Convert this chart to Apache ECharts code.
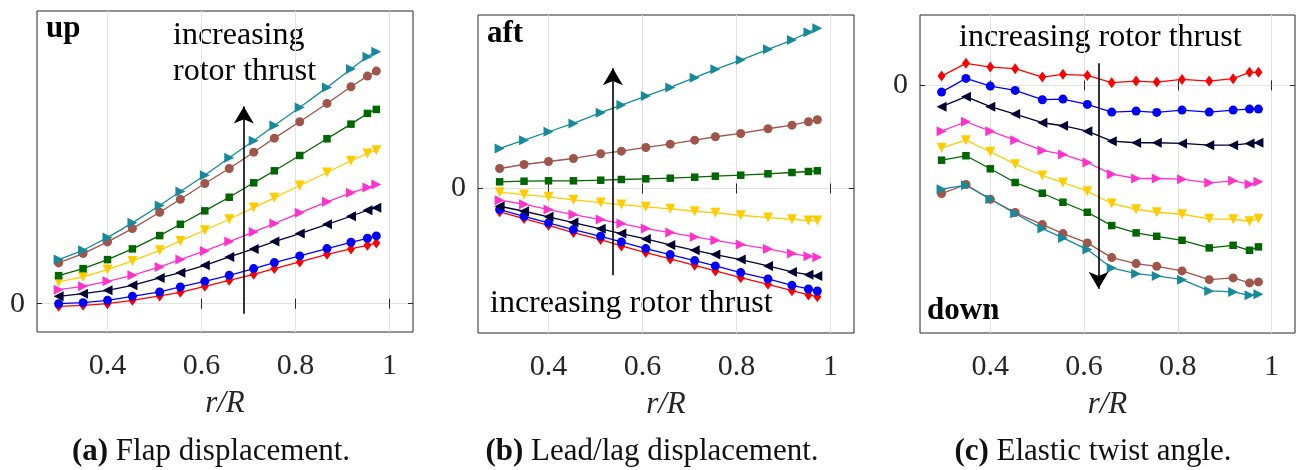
<!DOCTYPE html>
<html>
<head>
<meta charset="utf-8">
<script src="https://cdn.jsdelivr.net/npm/echarts@6/dist/echarts.min.js"></script>
<style>
  html, body { margin: 0; padding: 0; background: #fff; }
  #chart { width: 1300px; height: 470px; }
</style>
</head>
<body>
<div id="chart"></div>
<script>
// blade stations r/R (shared by all three panels)
const rR = [0.296, 0.348, 0.4, 0.453, 0.511, 0.555, 0.607, 0.659, 0.711, 0.755, 0.809, 0.867, 0.918, 0.953, 0.972];
const xTicks = [0.4, 0.6, 0.8, 1];

// rows ordered from lowest to highest rotor thrust
const flapDisp = [
  [-0.027, -0.017, 0, 0.033, 0.077, 0.113, 0.173, 0.233, 0.293, 0.35, 0.417, 0.493, 0.547, 0.583, 0.607],
  [0, 0.01, 0.033, 0.073, 0.117, 0.167, 0.223, 0.283, 0.35, 0.41, 0.477, 0.55, 0.613, 0.653, 0.677],
  [0.073, 0.1, 0.133, 0.183, 0.257, 0.31, 0.383, 0.467, 0.547, 0.62, 0.7, 0.793, 0.873, 0.933, 0.957],
  [0.14, 0.173, 0.223, 0.283, 0.367, 0.44, 0.527, 0.62, 0.717, 0.8, 0.907, 1.017, 1.107, 1.16, 1.19],
  [0.217, 0.267, 0.34, 0.427, 0.533, 0.627, 0.733, 0.843, 0.96, 1.057, 1.18, 1.31, 1.427, 1.5, 1.533],
  [0.28, 0.35, 0.44, 0.547, 0.68, 0.793, 0.927, 1.063, 1.207, 1.327, 1.48, 1.647, 1.793, 1.9, 1.94],
  [0.407, 0.5, 0.617, 0.75, 0.913, 1.043, 1.2, 1.35, 1.513, 1.653, 1.817, 2.0, 2.167, 2.273, 2.323],
  [0.44, 0.533, 0.66, 0.807, 0.98, 1.12, 1.283, 1.457, 1.627, 1.78, 1.96, 2.16, 2.343, 2.467, 2.517]
];

const leadLagDisp = [
  [-0.233, -0.3, -0.367, -0.44, -0.51, -0.573, -0.64, -0.703, -0.767, -0.823, -0.89, -0.957, -1.02, -1.063, -1.08],
  [-0.21, -0.277, -0.343, -0.41, -0.477, -0.533, -0.6, -0.66, -0.72, -0.773, -0.84, -0.903, -0.967, -1.003, -1.023],
  [-0.177, -0.227, -0.283, -0.34, -0.403, -0.45, -0.503, -0.563, -0.617, -0.66, -0.71, -0.773, -0.833, -0.86, -0.873],
  [-0.117, -0.157, -0.21, -0.26, -0.31, -0.35, -0.4, -0.44, -0.483, -0.517, -0.56, -0.603, -0.65, -0.677, -0.687],
  [-0.037, -0.06, -0.083, -0.113, -0.14, -0.16, -0.183, -0.203, -0.227, -0.243, -0.267, -0.29, -0.307, -0.32, -0.32],
  [0.067, 0.073, 0.077, 0.077, 0.083, 0.09, 0.097, 0.103, 0.113, 0.123, 0.133, 0.147, 0.16, 0.17, 0.177],
  [0.2, 0.24, 0.27, 0.3, 0.347, 0.373, 0.41, 0.443, 0.483, 0.517, 0.55, 0.597, 0.633, 0.667, 0.687],
  [0.4, 0.483, 0.567, 0.65, 0.757, 0.833, 0.923, 1.01, 1.107, 1.19, 1.283, 1.39, 1.483, 1.56, 1.6]
];

const twistAngle = [
  [0.093, 0.22, 0.183, 0.167, 0.083, 0.11, 0.1, 0.027, 0.043, 0.033, 0.06, 0.043, 0.067, 0.13, 0.13],
  [-0.067, 0.07, -0.007, -0.05, -0.143, -0.137, -0.19, -0.267, -0.257, -0.27, -0.247, -0.267, -0.247, -0.237, -0.237],
  [-0.213, -0.113, -0.213, -0.287, -0.373, -0.403, -0.457, -0.557, -0.573, -0.573, -0.58, -0.597, -0.597, -0.58, -0.573],
  [-0.457, -0.363, -0.457, -0.547, -0.65, -0.69, -0.77, -0.887, -0.93, -0.93, -0.937, -0.973, -0.953, -0.987, -0.963],
  [-0.623, -0.547, -0.663, -0.787, -0.9, -0.97, -1.057, -1.18, -1.237, -1.267, -1.287, -1.333, -1.337, -1.357, -1.333],
  [-0.747, -0.703, -0.833, -0.97, -1.077, -1.167, -1.267, -1.4, -1.473, -1.507, -1.547, -1.623, -1.597, -1.647, -1.613],
  [-1.08, -0.99, -1.137, -1.27, -1.39, -1.48, -1.573, -1.72, -1.78, -1.807, -1.853, -1.94, -1.923, -1.973, -1.963],
  [-1.037, -0.997, -1.137, -1.28, -1.43, -1.523, -1.64, -1.823, -1.88, -1.903, -1.94, -2.053, -2.063, -2.097, -2.087]
];

const yRanges = [[-0.283, 2.923], [-1.443, 1.733], [-2.473, 0.703]];
const captions = ['{b|(a)} Flap displacement.', '{b|(b)} Lead/lag displacement.', '{b|(c)} Elastic twist angle.'];

const curveStyles = [
  { color: '#ff0000', symbol: 'diamond', rotate: 0, size: [8, 11] },
  { color: '#0000ff', symbol: 'circle', rotate: 0, size: 9 },
  { color: '#000033', symbol: 'triangle', rotate: 90, size: 10 },
  { color: '#ff33cc', symbol: 'triangle', rotate: -90, size: 10 },
  { color: '#ffcc00', symbol: 'triangle', rotate: 180, size: 10 },
  { color: '#006600', symbol: 'rect', rotate: 0, size: 7.5 },
  { color: '#a0554a', symbol: 'circle', rotate: 0, size: 9 },
  { color: '#168a9c', symbol: 'triangle', rotate: -90, size: 10 }
];

// arrow start / end in data coords, per panel
const arrows = [
  [[0.69, -0.1], [0.69, 1.97]],
  [[0.537, -0.867], [0.537, 1.2]],
  [[0.631, 0.22], [0.631, -2.03]]
];

const FONT = '"Liberation Serif", "Times New Roman", serif';
const grids = [
  { left: 37, top: 11, width: 376, height: 321 },
  { left: 478, top: 15, width: 376, height: 318 },
  { left: 920, top: 15, width: 375, height: 318 }
];

const chart = echarts.init(document.getElementById('chart'));

const xAxes = [];
const yAxes = [];
const series = [];
[flapDisp, leadLagDisp, twistAngle].forEach((panel, p) => {
  xAxes.push({
    gridIndex: p, type: 'value', min: 0.25, max: 1.05,
    axisLine: { show: false },
    axisTick: { show: true, inside: true, length: 5, customValues: xTicks, lineStyle: { color: '#262626' } },
    axisLabel: { customValues: xTicks, fontFamily: FONT, fontSize: 30, color: '#262626', margin: 19 },
    splitLine: { show: true, lineStyle: { color: '#e3e3e3', width: 1 } },
    name: 'r/R', nameLocation: 'middle', nameGap: 56,
    nameTextStyle: { fontFamily: FONT, fontSize: 31, fontStyle: 'italic', color: '#262626' }
  });
  yAxes.push({
    gridIndex: p, type: 'value', min: yRanges[p][0], max: yRanges[p][1],
    axisLine: { show: false },
    axisTick: { show: true, inside: true, length: 5, customValues: [0], lineStyle: { color: '#262626' } },
    axisLabel: { customValues: [0], fontFamily: FONT, fontSize: 30, color: '#262626', margin: 12 },
    splitLine: { show: true, lineStyle: { color: '#e3e3e3', width: 1 } }
  });
  panel.forEach((row, i) => {
    const st = curveStyles[i];
    const s = {
      type: 'line', xAxisIndex: p, yAxisIndex: p,
      data: row.map((v, k) => [rR[k], v]),
      symbol: st.symbol, symbolSize: st.size, symbolRotate: st.rotate,
      showSymbol: true, silent: true, animation: false,
      lineStyle: { color: st.color, width: 1.3 },
      itemStyle: { color: st.color, borderWidth: 0 }
    };
    if (i === panel.length - 1) {
      s.markLine = {
        silent: true, animation: false,
        symbol: ['none', 'arrow'], symbolSize: [15, 17],
        label: { show: false },
        lineStyle: { color: '#000', width: 1.6, type: 'solid' },
        data: [[{ coord: arrows[p][0] }, { coord: arrows[p][1] }]]
      };
    }
    series.push(s);
  });
});
// top and right duplicates carry the inward MATLAB ticks
[0, 1, 2].forEach((p) => {
  xAxes.push({
    gridIndex: p, type: 'value', position: 'top', min: 0.25, max: 1.05,
    axisLine: { show: false }, axisLabel: { show: false }, splitLine: { show: false },
    axisTick: { show: true, inside: true, length: 5, customValues: xTicks, lineStyle: { color: '#262626' } }
  });
  yAxes.push({
    gridIndex: p, type: 'value', position: 'right', min: yRanges[p][0], max: yRanges[p][1],
    axisLine: { show: false }, axisLabel: { show: false }, splitLine: { show: false },
    axisTick: { show: true, inside: true, length: 5, customValues: [0], lineStyle: { color: '#262626' } }
  });
});

const txt = (x, y, text, extra) => ({
  type: 'text', x, y, silent: true,
  style: Object.assign({ text, fontFamily: FONT, fontSize: 32, fill: '#000', textVerticalAlign: 'middle' }, extra)
});

const centers = [211, 652, 1093];
const graphic = [
  txt(46, 29, 'up', { fontWeight: 'bold', fontSize: 31 }),
  txt(173, 36, 'increasing'),
  txt(173, 72, 'rotor thrust'),
  txt(487, 34, 'aft', { fontWeight: 'bold', fontSize: 31 }),
  txt(490, 304, 'increasing rotor thrust'),
  txt(959, 38, 'increasing rotor thrust'),
  txt(927, 311, 'down', { fontWeight: 'bold', fontSize: 31 })
];
captions.forEach((c, p) => {
  graphic.push(txt(centers[p], 452, c, {
    fontSize: 31, fill: '#111', textAlign: 'center',
    rich: { b: { fontFamily: FONT, fontSize: 31, fontWeight: 'bold', fill: '#111' } }
  }));
});

chart.setOption({
  animation: false,
  grid: grids.map((g) => Object.assign({ show: true, borderColor: '#262626', borderWidth: 1, backgroundColor: '#fff' }, g)),
  xAxis: xAxes,
  yAxis: yAxes,
  series,
  graphic
});
</script>
</body>
</html>
